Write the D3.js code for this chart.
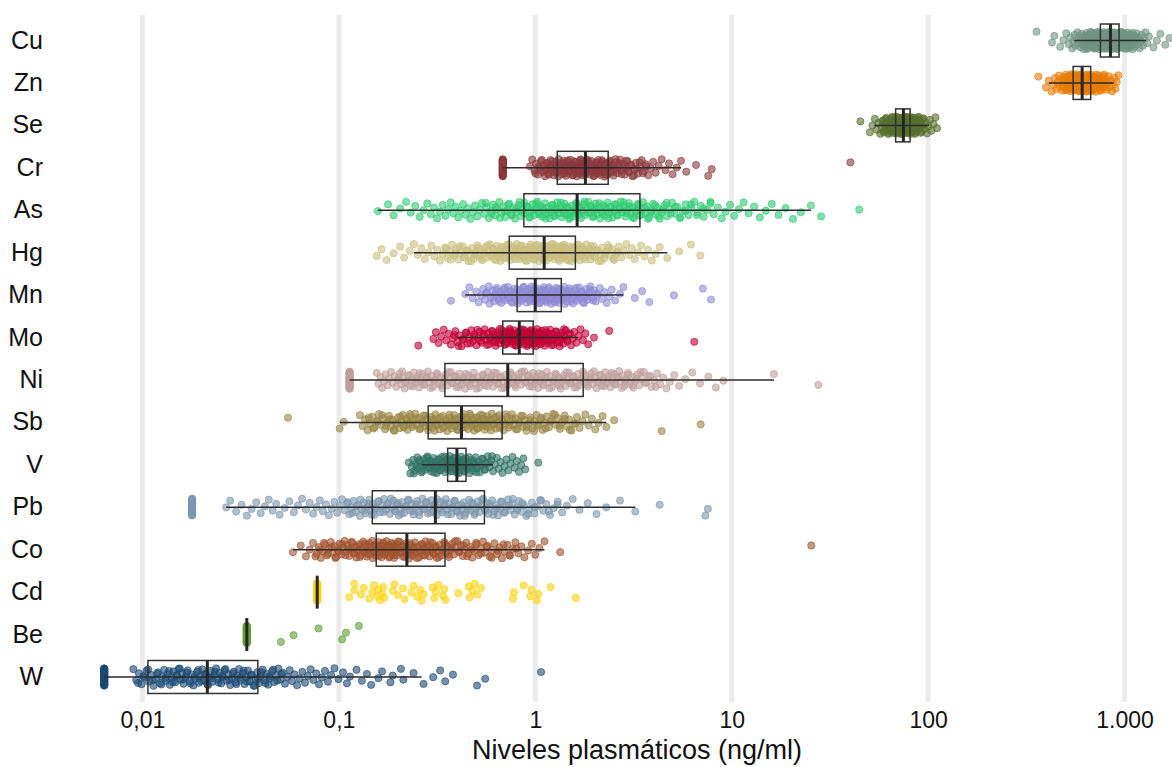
<!DOCTYPE html>
<html>
<head>
<meta charset="utf-8">
<script src="https://cdn.jsdelivr.net/npm/d3@7"></script>
<style>
  body { margin: 0; background: #fff; }
  text { font-family: "Liberation Sans", Arial, sans-serif; fill: #111; }
</style>
</head>
<body>
<div id="container"></div>
<script>
var width = 1172,
    height = 767;

// elements, top to bottom
var elements = ["Cu", "Zn", "Se", "Cr", "As", "Hg", "Mn", "Mo", "Ni", "Sb", "V", "Pb", "Co", "Cd", "Be", "W"];
var palette = ["#6f9283", "#e87d05", "#566f2d", "#8c383c", "#2ecc71", "#c9bf7f", "#8e8ad6", "#c10034",
               "#bf9f9b", "#9a8544", "#2e7263", "#7d96ae", "#a0522d", "#fcd20a", "#5ca131", "#1b4a75"];

// box stats (ng/ml)
var whiskerLow  = [555, 411, 53.2, 0.683, 0.158, 0.241, 0.44, 0.401, 0.1134, 0.101, 0.264, 0.0267, 0.0584, 0.0776, 0.034, 0.00639];
var q1          = [753, 547, 68.3, 1.294, 0.875, 0.737, 0.808, 0.683, 0.3465, 0.285, 0.358, 0.148, 0.155, 0.0776, 0.034, 0.01067];
var median      = [847, 608, 74.8, 1.80, 1.633, 1.11, 1.0, 0.829, 0.7244, 0.421, 0.399, 0.310, 0.222, 0.0776, 0.034, 0.0214];
var q3          = [937, 672, 80.9, 2.35, 3.41, 1.60, 1.356, 0.976, 1.754, 0.678, 0.444, 0.551, 0.347, 0.0776, 0.034, 0.0387];
var whiskerHigh = [1287, 880, 101, 5.52, 25.3, 4.70, 2.81, 1.654, 16.4, 2.30, 0.608, 3.23, 1.114, 0.0776, 0.034, 0.264];

// values piled at the detection limit
var lodElements = ["Cr", "Ni", "Pb", "Cd", "Be", "W"];
var lodValues   = [0.683, 0.1134, 0.0179, 0.0776, 0.034, 0.00639];
var lodCounts   = [40, 40, 30, 60, 60, 60];

var tickValues = [0.01, 0.1, 1, 10, 100, 1000];
var tickLabels = ["0,01", "0,1", "1", "10", "100", "1.000"];

var ptsCu = [356, 427, 439, 470, 488, 505, 520, 530, 541, 548, 556, 563, 570, 576, 582, 588, 594, 599, 604, 609, 614, 619, 624, 628, 632, 637, 641, 645, 649, 653, 657, 661, 665, 669, 672, 676, 680, 683, 687, 690, 694, 697, 701, 704, 708, 711, 714, 718, 721, 724, 727, 731, 734, 737, 740, 743, 746, 749, 752, 755, 758, 761, 764, 767, 770, 773, 776, 779, 782, 785, 788, 791, 794, 797, 800, 803, 806, 809, 812, 815, 818, 821, 824, 827, 830, 833, 836, 839, 842, 845, 848, 851, 854, 857, 860, 863, 866, 869, 872, 875, 878, 881, 884, 888, 891, 894, 898, 901, 905, 908, 912, 915, 919, 922, 926, 930, 934, 938, 942, 946, 950, 954, 958, 963, 967, 972, 977, 982, 987, 992, 997, 1003, 1009, 1015, 1021, 1027, 1034, 1041, 1048, 1056, 1064, 1072, 1080, 1089, 1098, 1108, 1118, 1129, 1140, 1152, 1165, 1178, 1192, 1207, 1223, 1240, 1258, 1278, 1302, 1330, 1402, 1460, 1521, 1610, 1692];
var ptsZn = [364, 398, 411, 425, 434, 442, 450, 457, 463, 469, 475, 480, 485, 490, 494, 498, 502, 506, 510, 513, 517, 520, 523, 527, 530, 533, 536, 539, 542, 545, 548, 550, 553, 556, 558, 561, 563, 566, 568, 571, 573, 576, 578, 580, 583, 585, 587, 590, 592, 594, 596, 599, 601, 603, 605, 608, 610, 612, 614, 617, 619, 621, 624, 626, 628, 631, 633, 636, 638, 641, 643, 646, 648, 651, 654, 656, 659, 662, 665, 668, 671, 674, 677, 680, 683, 687, 690, 694, 697, 701, 705, 709, 713, 717, 722, 727, 732, 737, 742, 748, 754, 760, 766, 773, 780, 787, 795, 803, 811, 820, 830, 840, 851, 862, 874, 886, 899, 912, 930];
var ptsSe = [45.2, 50.5, 52, 53.5, 54.8, 55.9, 57, 58, 58.9, 59.7, 60.5, 61.2, 61.9, 62.5, 63.1, 63.7, 64.2, 64.7, 65.2, 65.7, 66.2, 66.6, 67.0, 67.4, 67.8, 68.2, 68.6, 69.0, 69.4, 69.7, 70.1, 70.5, 70.8, 71.2, 71.5, 71.9, 72.2, 72.6, 72.9, 73.3, 73.6, 74.0, 74.3, 74.7, 75.0, 75.4, 75.7, 76.1, 76.4, 76.8, 77.2, 77.5, 77.9, 78.3, 78.7, 79.1, 79.5, 79.9, 80.3, 80.7, 81.1, 81.6, 82.0, 82.5, 83.0, 83.5, 84.0, 84.6, 85.2, 85.8, 86.4, 87.1, 87.8, 88.6, 89.4, 90.3, 91.2, 92.2, 93.3, 94.5, 95.8, 97.2, 98.7, 100.3, 102, 104, 106.5, 109, 111];
var ptsCr = [0.94, 0.965, 0.99, 1.01, 1.03, 1.05, 1.07, 1.09, 1.105, 1.12, 1.135, 1.15, 1.165, 1.18, 1.195, 1.21, 1.225, 1.24, 1.255, 1.27, 1.285, 1.3, 1.315, 1.33, 1.345, 1.36, 1.375, 1.39, 1.405, 1.42, 1.435, 1.45, 1.465, 1.48, 1.495, 1.51, 1.525, 1.54, 1.555, 1.57, 1.585, 1.6, 1.615, 1.63, 1.645, 1.66, 1.675, 1.69, 1.705, 1.72, 1.735, 1.75, 1.765, 1.78, 1.795, 1.81, 1.83, 1.85, 1.87, 1.89, 1.91, 1.93, 1.95, 1.97, 1.99, 2.01, 2.03, 2.05, 2.07, 2.09, 2.11, 2.13, 2.15, 2.17, 2.19, 2.21, 2.23, 2.25, 2.28, 2.31, 2.34, 2.37, 2.4, 2.43, 2.46, 2.5, 2.54, 2.58, 2.62, 2.66, 2.7, 2.75, 2.8, 2.85, 2.9, 2.95, 3.0, 3.06, 3.12, 3.18, 3.25, 3.32, 3.4, 3.48, 3.57, 3.66, 3.76, 3.87, 3.98, 4.1, 4.25, 4.4, 4.6, 4.8, 5.0, 5.25, 5.52, 5.87, 6.58, 7.59, 7.91, 40.2];
var ptsAs = [0.158, 0.178, 0.19, 0.205, 0.22, 0.232, 0.245, 0.258, 0.27, 0.282, 0.294, 0.305, 0.316, 0.327, 0.338, 0.349, 0.36, 0.371, 0.382, 0.393, 0.405, 0.417, 0.429, 0.441, 0.454, 0.467, 0.48, 0.493, 0.507, 0.521, 0.535, 0.55, 0.565, 0.58, 0.595, 0.61, 0.625, 0.64, 0.656, 0.672, 0.688, 0.704, 0.72, 0.737, 0.754, 0.771, 0.788, 0.806, 0.824, 0.842, 0.86, 0.878, 0.896, 0.914, 0.932, 0.95, 0.968, 0.986, 1.005, 1.024, 1.043, 1.062, 1.082, 1.102, 1.122, 1.142, 1.163, 1.184, 1.205, 1.227, 1.249, 1.271, 1.294, 1.317, 1.34, 1.364, 1.388, 1.412, 1.437, 1.462, 1.488, 1.514, 1.54, 1.567, 1.594, 1.622, 1.65, 1.679, 1.708, 1.738, 1.768, 1.799, 1.83, 1.862, 1.894, 1.927, 1.96, 1.994, 2.03, 2.065, 2.1, 2.14, 2.18, 2.22, 2.26, 2.3, 2.34, 2.38, 2.42, 2.47, 2.52, 2.57, 2.62, 2.67, 2.72, 2.77, 2.82, 2.88, 2.94, 3.0, 3.06, 3.12, 3.18, 3.25, 3.32, 3.39, 3.46, 3.54, 3.62, 3.7, 3.79, 3.88, 3.98, 4.08, 4.19, 4.3, 4.42, 4.55, 4.68, 4.82, 4.97, 5.12, 5.28, 5.45, 5.63, 5.82, 6.02, 6.23, 6.45, 6.7, 6.95, 7.2, 7.5, 7.8, 8.1, 8.5, 8.9, 9.3, 9.8, 10.3, 10.9, 11.5, 12.2, 13, 13.9, 14.9, 16, 17.3, 18.8, 20.5, 22.5, 25.3, 28.5, 44.6];
var ptsHg = [0.156, 0.165, 0.175, 0.19, 0.205, 0.215, 0.23, 0.241, 0.252, 0.263, 0.274, 0.285, 0.296, 0.307, 0.317, 0.327, 0.337, 0.347, 0.357, 0.367, 0.377, 0.387, 0.397, 0.407, 0.417, 0.427, 0.437, 0.447, 0.457, 0.467, 0.477, 0.487, 0.497, 0.507, 0.517, 0.527, 0.537, 0.547, 0.557, 0.567, 0.577, 0.587, 0.597, 0.607, 0.617, 0.627, 0.637, 0.647, 0.657, 0.667, 0.677, 0.687, 0.697, 0.707, 0.717, 0.727, 0.737, 0.748, 0.759, 0.77, 0.781, 0.792, 0.803, 0.814, 0.825, 0.836, 0.847, 0.858, 0.869, 0.88, 0.891, 0.902, 0.913, 0.924, 0.936, 0.948, 0.96, 0.972, 0.984, 0.996, 1.008, 1.02, 1.032, 1.044, 1.056, 1.068, 1.08, 1.093, 1.106, 1.119, 1.132, 1.145, 1.158, 1.171, 1.184, 1.197, 1.21, 1.224, 1.238, 1.252, 1.266, 1.28, 1.295, 1.31, 1.325, 1.34, 1.355, 1.37, 1.386, 1.402, 1.418, 1.434, 1.45, 1.467, 1.484, 1.501, 1.518, 1.535, 1.553, 1.571, 1.59, 1.61, 1.63, 1.65, 1.67, 1.69, 1.71, 1.73, 1.76, 1.79, 1.82, 1.85, 1.88, 1.91, 1.94, 1.98, 2.02, 2.06, 2.1, 2.14, 2.19, 2.24, 2.29, 2.34, 2.4, 2.46, 2.52, 2.59, 2.66, 2.74, 2.82, 2.91, 3.0, 3.1, 3.21, 3.33, 3.46, 3.6, 3.75, 3.92, 4.1, 4.3, 4.7, 5.4, 6.2, 6.92];
var ptsMn = [0.372, 0.44, 0.462, 0.48, 0.5, 0.515, 0.53, 0.543, 0.556, 0.568, 0.58, 0.592, 0.604, 0.616, 0.627, 0.638, 0.649, 0.66, 0.671, 0.682, 0.693, 0.704, 0.715, 0.726, 0.737, 0.748, 0.759, 0.77, 0.781, 0.792, 0.803, 0.814, 0.825, 0.836, 0.847, 0.858, 0.869, 0.88, 0.891, 0.902, 0.913, 0.924, 0.935, 0.946, 0.957, 0.968, 0.979, 0.99, 1.001, 1.012, 1.023, 1.034, 1.045, 1.057, 1.069, 1.081, 1.093, 1.105, 1.117, 1.129, 1.141, 1.154, 1.167, 1.18, 1.193, 1.206, 1.22, 1.234, 1.248, 1.262, 1.277, 1.292, 1.307, 1.322, 1.338, 1.354, 1.37, 1.387, 1.404, 1.421, 1.439, 1.457, 1.476, 1.495, 1.515, 1.535, 1.556, 1.577, 1.6, 1.623, 1.647, 1.672, 1.698, 1.725, 1.753, 1.782, 1.812, 1.843, 1.875, 1.91, 1.95, 1.99, 2.03, 2.08, 2.13, 2.19, 2.25, 2.31, 2.38, 2.45, 2.55, 2.7, 2.81, 3.21, 3.5, 3.81, 5.08, 7.13, 7.85];
var ptsMo = [0.254, 0.303, 0.312, 0.322, 0.332, 0.342, 0.352, 0.362, 0.372, 0.382, 0.392, 0.402, 0.412, 0.422, 0.432, 0.442, 0.452, 0.462, 0.472, 0.482, 0.492, 0.502, 0.512, 0.522, 0.532, 0.542, 0.552, 0.562, 0.572, 0.582, 0.592, 0.602, 0.611, 0.62, 0.629, 0.638, 0.647, 0.656, 0.665, 0.674, 0.683, 0.692, 0.7, 0.708, 0.716, 0.724, 0.732, 0.74, 0.748, 0.756, 0.764, 0.772, 0.78, 0.788, 0.796, 0.804, 0.812, 0.82, 0.828, 0.836, 0.844, 0.852, 0.86, 0.868, 0.876, 0.884, 0.892, 0.9, 0.908, 0.916, 0.924, 0.932, 0.94, 0.948, 0.956, 0.965, 0.974, 0.983, 0.992, 1.002, 1.012, 1.022, 1.033, 1.044, 1.055, 1.067, 1.079, 1.091, 1.104, 1.117, 1.131, 1.145, 1.16, 1.175, 1.19, 1.206, 1.222, 1.239, 1.256, 1.274, 1.292, 1.311, 1.33, 1.35, 1.37, 1.39, 1.41, 1.43, 1.46, 1.49, 1.52, 1.55, 1.58, 1.62, 1.66, 1.7, 1.75, 1.8, 1.86, 1.99, 2.38, 6.45];
var ptsNi = [0.156, 0.159, 0.163, 0.166, 0.17, 0.173, 0.177, 0.18, 0.184, 0.188, 0.192, 0.196, 0.2, 0.204, 0.208, 0.212, 0.216, 0.221, 0.226, 0.231, 0.236, 0.241, 0.246, 0.251, 0.256, 0.261, 0.266, 0.272, 0.278, 0.284, 0.29, 0.296, 0.302, 0.308, 0.315, 0.322, 0.329, 0.336, 0.343, 0.35, 0.357, 0.364, 0.372, 0.38, 0.388, 0.396, 0.404, 0.412, 0.421, 0.43, 0.439, 0.448, 0.457, 0.467, 0.477, 0.487, 0.497, 0.507, 0.518, 0.529, 0.54, 0.551, 0.562, 0.574, 0.586, 0.598, 0.61, 0.623, 0.636, 0.649, 0.662, 0.676, 0.69, 0.704, 0.718, 0.733, 0.748, 0.763, 0.779, 0.795, 0.811, 0.828, 0.845, 0.862, 0.88, 0.898, 0.916, 0.935, 0.954, 0.974, 0.994, 1.014, 1.035, 1.056, 1.078, 1.1, 1.122, 1.145, 1.168, 1.192, 1.216, 1.241, 1.266, 1.292, 1.318, 1.345, 1.372, 1.4, 1.428, 1.457, 1.487, 1.517, 1.548, 1.579, 1.611, 1.644, 1.677, 1.711, 1.746, 1.781, 1.817, 1.854, 1.892, 1.93, 1.97, 2.01, 2.05, 2.09, 2.13, 2.18, 2.22, 2.27, 2.31, 2.36, 2.41, 2.46, 2.51, 2.56, 2.61, 2.67, 2.72, 2.78, 2.84, 2.9, 2.96, 3.02, 3.09, 3.16, 3.23, 3.31, 3.39, 3.48, 3.57, 3.67, 3.78, 3.9, 4.03, 4.17, 4.32, 4.48, 4.65, 4.85, 5.1, 5.4, 5.8, 6.3, 6.9, 7.6, 8.3, 9.07, 16.4, 27.6];
var ptsSb = [0.0551, 0.101, 0.106, 0.128, 0.132, 0.136, 0.14, 0.144, 0.148, 0.152, 0.156, 0.16, 0.164, 0.168, 0.172, 0.176, 0.18, 0.184, 0.188, 0.192, 0.196, 0.2, 0.204, 0.208, 0.212, 0.216, 0.22, 0.224, 0.228, 0.232, 0.236, 0.24, 0.245, 0.25, 0.255, 0.26, 0.265, 0.27, 0.275, 0.28, 0.285, 0.29, 0.295, 0.3, 0.305, 0.31, 0.315, 0.32, 0.326, 0.332, 0.338, 0.344, 0.35, 0.356, 0.362, 0.368, 0.374, 0.38, 0.386, 0.392, 0.398, 0.404, 0.41, 0.416, 0.422, 0.428, 0.434, 0.44, 0.447, 0.454, 0.461, 0.468, 0.475, 0.482, 0.489, 0.496, 0.504, 0.512, 0.52, 0.528, 0.536, 0.544, 0.553, 0.562, 0.571, 0.58, 0.59, 0.6, 0.61, 0.62, 0.631, 0.642, 0.653, 0.665, 0.677, 0.69, 0.703, 0.717, 0.731, 0.746, 0.761, 0.777, 0.793, 0.81, 0.827, 0.845, 0.864, 0.883, 0.903, 0.924, 0.945, 0.967, 0.99, 1.014, 1.038, 1.063, 1.089, 1.116, 1.144, 1.173, 1.203, 1.234, 1.266, 1.3, 1.335, 1.37, 1.41, 1.45, 1.49, 1.53, 1.58, 1.63, 1.68, 1.74, 1.8, 1.87, 1.94, 2.02, 2.1, 2.2, 2.3, 2.52, 4.4, 6.95];
var ptsV  = [0.227, 0.231, 0.235, 0.239, 0.243, 0.247, 0.251, 0.255, 0.259, 0.263, 0.267, 0.271, 0.275, 0.279, 0.283, 0.287, 0.291, 0.295, 0.299, 0.303, 0.307, 0.311, 0.315, 0.319, 0.323, 0.327, 0.331, 0.335, 0.339, 0.343, 0.347, 0.351, 0.355, 0.359, 0.363, 0.367, 0.371, 0.375, 0.379, 0.383, 0.387, 0.391, 0.395, 0.399, 0.403, 0.407, 0.411, 0.415, 0.419, 0.424, 0.429, 0.434, 0.439, 0.444, 0.45, 0.456, 0.462, 0.468, 0.475, 0.482, 0.489, 0.497, 0.505, 0.513, 0.522, 0.531, 0.541, 0.551, 0.562, 0.573, 0.585, 0.597, 0.61, 0.623, 0.637, 0.651, 0.666, 0.681, 0.697, 0.713, 0.73, 0.748, 0.766, 0.785, 0.805, 0.826, 0.848, 0.87, 0.889, 1.036];
var ptsPb = [0.0267, 0.028, 0.03, 0.032, 0.034, 0.036, 0.038, 0.04, 0.042, 0.044, 0.046, 0.048, 0.05, 0.053, 0.056, 0.059, 0.062, 0.065, 0.068, 0.071, 0.074, 0.077, 0.08, 0.083, 0.086, 0.089, 0.092, 0.095, 0.098, 0.101, 0.104, 0.107, 0.11, 0.113, 0.116, 0.119, 0.122, 0.125, 0.128, 0.131, 0.134, 0.137, 0.14, 0.143, 0.146, 0.149, 0.152, 0.155, 0.158, 0.162, 0.166, 0.17, 0.174, 0.178, 0.182, 0.186, 0.19, 0.194, 0.198, 0.202, 0.206, 0.21, 0.215, 0.22, 0.225, 0.23, 0.235, 0.24, 0.245, 0.25, 0.255, 0.26, 0.266, 0.272, 0.278, 0.284, 0.29, 0.296, 0.302, 0.308, 0.315, 0.322, 0.329, 0.336, 0.343, 0.35, 0.357, 0.365, 0.373, 0.381, 0.389, 0.397, 0.405, 0.414, 0.423, 0.432, 0.441, 0.45, 0.46, 0.47, 0.48, 0.49, 0.5, 0.51, 0.52, 0.531, 0.542, 0.553, 0.565, 0.577, 0.59, 0.603, 0.617, 0.631, 0.646, 0.661, 0.677, 0.693, 0.71, 0.728, 0.746, 0.765, 0.785, 0.806, 0.828, 0.851, 0.875, 0.9, 0.93, 0.96, 0.99, 1.02, 1.06, 1.1, 1.14, 1.19, 1.24, 1.3, 1.37, 1.45, 1.55, 1.68, 1.85, 2.05, 2.3, 2.7, 3.23, 4.3, 7.34, 7.56];
var ptsCo = [0.0584, 0.064, 0.068, 0.071, 0.074, 0.077, 0.079, 0.081, 0.083, 0.085, 0.087, 0.089, 0.091, 0.093, 0.095, 0.097, 0.099, 0.101, 0.103, 0.105, 0.107, 0.109, 0.111, 0.113, 0.115, 0.117, 0.119, 0.121, 0.123, 0.125, 0.127, 0.129, 0.131, 0.133, 0.135, 0.137, 0.139, 0.141, 0.143, 0.145, 0.147, 0.149, 0.151, 0.153, 0.155, 0.157, 0.159, 0.161, 0.163, 0.165, 0.167, 0.169, 0.171, 0.173, 0.175, 0.177, 0.179, 0.181, 0.183, 0.185, 0.187, 0.189, 0.191, 0.193, 0.195, 0.198, 0.201, 0.204, 0.207, 0.21, 0.213, 0.216, 0.219, 0.222, 0.225, 0.228, 0.231, 0.234, 0.237, 0.24, 0.244, 0.248, 0.252, 0.256, 0.26, 0.264, 0.268, 0.272, 0.276, 0.28, 0.285, 0.29, 0.295, 0.3, 0.305, 0.31, 0.315, 0.32, 0.326, 0.332, 0.338, 0.344, 0.35, 0.357, 0.364, 0.371, 0.378, 0.385, 0.393, 0.401, 0.409, 0.418, 0.427, 0.436, 0.446, 0.456, 0.467, 0.478, 0.49, 0.502, 0.515, 0.528, 0.542, 0.556, 0.571, 0.587, 0.603, 0.62, 0.638, 0.657, 0.677, 0.698, 0.72, 0.743, 0.767, 0.792, 0.82, 0.85, 0.88, 0.92, 0.96, 1.0, 1.05, 1.114, 1.34, 25.4];
var ptsCd = [0.113, 0.120, 0.120, 0.130, 0.134, 0.143, 0.148, 0.151, 0.156, 0.159, 0.162, 0.166, 0.168, 0.170, 0.188, 0.192, 0.200, 0.212, 0.216, 0.234, 0.240, 0.250, 0.260, 0.264, 0.270, 0.300, 0.306, 0.312, 0.320, 0.339, 0.344, 0.349, 0.406, 0.458, 0.463, 0.478, 0.491, 0.507, 0.529, 0.770, 0.779, 0.872, 0.943, 0.958, 1.02, 1.036, 1.197, 1.61];
var ptsBe = [0.0507, 0.0588, 0.0788, 0.104, 0.1087, 0.1265];
var ptsW  = [0.009, 0.0093, 0.0096, 0.0099, 0.0102, 0.0105, 0.0108, 0.0111, 0.0114, 0.0117, 0.012, 0.0123, 0.0126, 0.0129, 0.0132, 0.0135, 0.0138, 0.0141, 0.0144, 0.0147, 0.015, 0.0153, 0.0156, 0.0159, 0.0162, 0.0166, 0.017, 0.0174, 0.0178, 0.0182, 0.0186, 0.019, 0.0194, 0.0198, 0.0202, 0.0206, 0.021, 0.0214, 0.0218, 0.0222, 0.0227, 0.0232, 0.0237, 0.0242, 0.0247, 0.0252, 0.0257, 0.0262, 0.0268, 0.0274, 0.028, 0.0286, 0.0292, 0.0298, 0.0304, 0.031, 0.0317, 0.0324, 0.0331, 0.0338, 0.0345, 0.0352, 0.036, 0.0368, 0.0376, 0.0384, 0.0392, 0.04, 0.0409, 0.0418, 0.0427, 0.0437, 0.0447, 0.0458, 0.0469, 0.048, 0.0492, 0.0505, 0.0518, 0.0532, 0.0547, 0.0562, 0.0578, 0.0595, 0.0613, 0.0632, 0.0652, 0.0673, 0.0695, 0.0718, 0.0742, 0.0767, 0.0793, 0.082, 0.085, 0.088, 0.0913, 0.095, 0.0996, 0.105, 0.11, 0.114, 0.123, 0.131, 0.139, 0.146, 0.159, 0.166, 0.183, 0.188, 0.207, 0.213, 0.24, 0.27, 0.302, 0.328, 0.348, 0.381, 0.505, 0.556, 1.07];

// second reading of the crowded middle of each strip
var coreCu = [643, 651, 659, 667, 674, 681, 688, 695, 702, 709, 716, 723, 729, 735, 741, 747, 753, 759, 765, 771, 777, 783, 789, 795, 801, 807, 813, 819, 825, 831, 837, 843, 849, 855, 861, 867, 873, 879, 886, 893, 900, 907, 914, 921, 928, 936, 944, 952, 960, 969, 978, 988, 998, 1008, 1019, 1031, 1043, 1056, 1070, 1085, 1101, 1118, 1136];
var coreZn = [482, 492, 500, 508, 515, 522, 528, 534, 540, 546, 551, 557, 562, 567, 572, 577, 582, 586, 591, 595, 600, 604, 609, 613, 618, 622, 627, 632, 637, 642, 647, 652, 657, 663, 669, 675, 681, 688, 695, 703, 711, 720, 730, 740, 752, 765, 779, 795];
var coreSe = [58.4, 59.3, 60.1, 60.9, 61.6, 62.2, 62.8, 63.4, 64.0, 64.5, 65.0, 65.5, 66.0, 66.4, 66.8, 67.2, 67.6, 68.0, 68.4, 68.8, 69.2, 69.6, 69.9, 70.3, 70.7, 71.0, 71.4, 71.7, 72.1, 72.4, 72.8, 73.1, 73.5, 73.8, 74.2, 74.5, 74.9, 75.2, 75.6, 75.9, 76.3, 76.6, 77.0, 77.4, 77.7, 78.1, 78.5, 78.9, 79.3, 79.7, 80.1, 80.5, 80.9, 81.4, 81.8, 82.3, 82.8, 83.3, 83.8, 84.3, 84.9, 85.5, 86.1, 86.8, 87.5, 88.2, 89, 89.8, 90.7, 91.7, 92.8, 94];
var coreCr = [1.0, 1.04, 1.08, 1.11, 1.14, 1.17, 1.2, 1.22, 1.25, 1.28, 1.31, 1.34, 1.37, 1.4, 1.43, 1.46, 1.49, 1.52, 1.55, 1.58, 1.61, 1.64, 1.67, 1.7, 1.73, 1.76, 1.79, 1.82, 1.86, 1.9, 1.94, 1.98, 2.02, 2.06, 2.1, 2.14, 2.18, 2.22, 2.26, 2.3, 2.35, 2.4, 2.45, 2.5, 2.56, 2.62, 2.68, 2.75, 2.82, 2.9, 2.98, 3.07, 3.17, 3.28, 3.4, 3.53, 3.67];
var coreAs = [0.56, 0.6, 0.63, 0.66, 0.7, 0.73, 0.76, 0.8, 0.83, 0.87, 0.9, 0.94, 0.98, 1.01, 1.05, 1.09, 1.13, 1.17, 1.21, 1.26, 1.3, 1.35, 1.4, 1.45, 1.5, 1.55, 1.61, 1.66, 1.72, 1.78, 1.84, 1.91, 1.98, 2.05, 2.12, 2.2, 2.28, 2.36, 2.44, 2.53, 2.62, 2.71, 2.81, 2.91, 3.01, 3.12, 3.23, 3.35, 3.47, 3.6, 3.75, 3.9, 4.07, 4.25, 4.45, 4.66, 4.9, 5.15, 5.45, 5.8, 6.2, 6.65, 7.2, 7.8];
var coreHg = [0.352, 0.372, 0.392, 0.412, 0.432, 0.452, 0.472, 0.492, 0.512, 0.532, 0.552, 0.572, 0.592, 0.612, 0.632, 0.652, 0.672, 0.692, 0.712, 0.732, 0.753, 0.775, 0.797, 0.819, 0.841, 0.863, 0.885, 0.907, 0.93, 0.954, 0.978, 1.002, 1.026, 1.05, 1.074, 1.1, 1.126, 1.152, 1.178, 1.204, 1.231, 1.259, 1.287, 1.316, 1.346, 1.377, 1.41, 1.443, 1.476, 1.51, 1.545, 1.58, 1.62, 1.66, 1.7, 1.75, 1.8, 1.86, 1.92, 1.99, 2.07, 2.16, 2.26, 2.37, 2.5, 2.62];
var coreMn = [0.562, 0.586, 0.61, 0.632, 0.654, 0.676, 0.698, 0.72, 0.742, 0.764, 0.786, 0.808, 0.83, 0.852, 0.874, 0.896, 0.918, 0.94, 0.962, 0.984, 1.006, 1.028, 1.051, 1.075, 1.099, 1.123, 1.148, 1.173, 1.2, 1.227, 1.255, 1.284, 1.314, 1.345, 1.378, 1.412, 1.448, 1.485, 1.525, 1.566, 1.61, 1.66, 1.71, 1.77, 1.83, 1.9, 1.97, 2.05];
var coreMo = [0.387, 0.407, 0.427, 0.447, 0.467, 0.487, 0.507, 0.527, 0.547, 0.567, 0.587, 0.606, 0.624, 0.642, 0.66, 0.678, 0.696, 0.712, 0.728, 0.744, 0.76, 0.776, 0.792, 0.808, 0.824, 0.84, 0.856, 0.872, 0.888, 0.904, 0.92, 0.936, 0.952, 0.97, 0.988, 1.007, 1.027, 1.049, 1.073, 1.098, 1.124, 1.152, 1.182, 1.214, 1.248, 1.283, 1.32, 1.36, 1.4, 1.445, 1.5];
var coreNi = [0.202, 0.21, 0.218, 0.228, 0.238, 0.248, 0.258, 0.269, 0.281, 0.293, 0.305, 0.318, 0.332, 0.346, 0.36, 0.376, 0.392, 0.408, 0.425, 0.443, 0.462, 0.482, 0.502, 0.523, 0.545, 0.568, 0.592, 0.617, 0.643, 0.669, 0.697, 0.725, 0.755, 0.787, 0.82, 0.854, 0.889, 0.926, 0.964, 1.004, 1.046, 1.089, 1.134, 1.18, 1.229, 1.279, 1.332, 1.386, 1.442, 1.502, 1.563, 1.627, 1.694, 1.763, 1.835, 1.911, 1.99, 2.07, 2.15, 2.24, 2.34, 2.44, 2.54, 2.65, 2.76, 2.87, 2.99, 3.12, 3.27, 3.44, 3.62, 3.84, 4.1];
var coreSb = [0.142, 0.15, 0.158, 0.166, 0.174, 0.182, 0.19, 0.198, 0.206, 0.214, 0.222, 0.23, 0.238, 0.247, 0.257, 0.267, 0.277, 0.287, 0.297, 0.307, 0.317, 0.329, 0.341, 0.353, 0.365, 0.377, 0.389, 0.401, 0.413, 0.425, 0.437, 0.45, 0.464, 0.478, 0.492, 0.508, 0.524, 0.54, 0.557, 0.575, 0.595, 0.615, 0.636, 0.659, 0.683, 0.709, 0.737, 0.766, 0.797, 0.83, 0.865, 0.903, 0.943, 0.985, 1.03, 1.08, 1.13, 1.19, 1.26, 1.33, 1.41, 1.5, 1.6];
var coreV  = [0.241, 0.249, 0.257, 0.265, 0.273, 0.281, 0.289, 0.297, 0.305, 0.313, 0.321, 0.329, 0.337, 0.345, 0.353, 0.361, 0.369, 0.377, 0.385, 0.393, 0.401, 0.409, 0.417, 0.426, 0.436, 0.447, 0.459, 0.472, 0.486, 0.501, 0.518, 0.536, 0.556, 0.578, 0.602];
var corePb = [0.111, 0.117, 0.123, 0.129, 0.135, 0.141, 0.147, 0.153, 0.16, 0.168, 0.176, 0.184, 0.192, 0.2, 0.208, 0.217, 0.227, 0.237, 0.247, 0.257, 0.268, 0.28, 0.292, 0.304, 0.317, 0.33, 0.344, 0.358, 0.373, 0.388, 0.404, 0.42, 0.437, 0.455, 0.474, 0.494, 0.515, 0.537, 0.56, 0.585, 0.611, 0.639, 0.669, 0.7, 0.735, 0.77, 0.81, 0.86, 0.92, 0.99, 1.07, 1.17, 1.3];
var coreCo = [0.076, 0.08, 0.084, 0.088, 0.092, 0.096, 0.1, 0.104, 0.108, 0.112, 0.116, 0.12, 0.124, 0.128, 0.132, 0.136, 0.14, 0.144, 0.148, 0.152, 0.156, 0.16, 0.164, 0.168, 0.172, 0.176, 0.18, 0.184, 0.188, 0.192, 0.196, 0.2, 0.205, 0.211, 0.217, 0.223, 0.229, 0.235, 0.242, 0.25, 0.258, 0.266, 0.274, 0.283, 0.292, 0.302, 0.312, 0.323, 0.335, 0.347, 0.36, 0.375, 0.39, 0.41, 0.43, 0.45, 0.475, 0.5, 0.53, 0.565, 0.6, 0.645, 0.69, 0.74, 0.8];
var coreW  = [0.0095, 0.0101, 0.0107, 0.0113, 0.0119, 0.0125, 0.0131, 0.0137, 0.0143, 0.0149, 0.0155, 0.0161, 0.0168, 0.0176, 0.0184, 0.0192, 0.02, 0.0208, 0.0216, 0.0225, 0.0234, 0.0244, 0.0254, 0.0265, 0.0277, 0.0289, 0.0301, 0.0314, 0.0328, 0.0342, 0.0356, 0.0372, 0.0388, 0.0405, 0.0423, 0.0442, 0.0463, 0.0486, 0.051];

var pointLists = [ptsCu, ptsZn, ptsSe, ptsCr, ptsAs, ptsHg, ptsMn, ptsMo, ptsNi, ptsSb, ptsV, ptsPb, ptsCo, ptsCd, ptsBe, ptsW];
var coreLists  = [coreCu, coreZn, coreSe, coreCr, coreAs, coreHg, coreMn, coreMo, coreNi, coreSb, coreV, corePb, coreCo, [], [], coreW];

var svg = d3.select('#container').append('svg')
    .attr("width", width)
    .attr("height", height);

var x = d3.scaleLog()
    .domain([0.01, 1000])
    .range([142.4, 1124.6]);

var y = d3.scaleBand()
    .domain(elements)
    .range([19.3, 698.2]);

var bw = y.bandwidth(),
    boxH = 33,
    jitterAmp = 8.8;

function cy(e) { return y(e) + bw / 2; }

// vertical gridlines
svg.append("g")
  .selectAll("line")
  .data(tickValues)
  .enter().append("line")
    .attr("x1", function(d) { return x(d); })
    .attr("x2", function(d) { return x(d); })
    .attr("y1", 15)
    .attr("y2", 702)
    .style("stroke", "#ebebeb")
    .style("stroke-width", 5);

// flatten the strips; vertical spread follows a golden-ratio sequence
var dots = [];
elements.forEach(function(e, r) {
  var vals = pointLists[r].concat(coreLists[r]);
  var k = lodElements.indexOf(e);
  if (k >= 0) {
    for (var n = 0; n < lodCounts[k]; n++) vals.push(lodValues[k]);
  }
  vals.forEach(function(v, i) {
    var j = ((i * 0.6180339887 + r * 0.137) % 1) * 2 - 1;
    dots.push({ e: e, r: r, v: v, dy: j * jitterAmp });
  });
});

svg.append("g")
  .selectAll("circle")
  .data(dots)
  .enter().append("circle")
    .attr("cx", function(d) { return x(d.v); })
    .attr("cy", function(d) { return cy(d.e) + d.dy; })
    .attr("r", 3.6)
    .style("fill", function(d) { return palette[d.r]; })
    .style("fill-opacity", 0.6)
    .style("stroke", function(d) { return palette[d.r]; })
    .style("stroke-opacity", 0.62)
    .style("stroke-width", 1);

// boxes
var boxes = svg.append("g")
  .selectAll("g")
  .data(elements)
  .enter().append("g");

boxes.append("line")
    .attr("x1", function(d, i) { return x(whiskerLow[i]); })
    .attr("x2", function(d, i) { return x(whiskerHigh[i]); })
    .attr("y1", cy)
    .attr("y2", cy)
    .style("stroke", "#2b2b2b")
    .style("stroke-width", 1.5);

boxes.append("rect")
    .attr("x", function(d, i) { return x(q1[i]); })
    .attr("width", function(d, i) { return x(q3[i]) - x(q1[i]); })
    .attr("y", function(d) { return cy(d) - boxH / 2; })
    .attr("height", boxH)
    .style("fill", "none")
    .style("stroke", "#333")
    .style("stroke-width", 1.5);

boxes.append("line")
    .attr("x1", function(d, i) { return x(median[i]); })
    .attr("x2", function(d, i) { return x(median[i]); })
    .attr("y1", function(d) { return cy(d) - boxH / 2; })
    .attr("y2", function(d) { return cy(d) + boxH / 2; })
    .style("stroke", "#262626")
    .style("stroke-width", 3);

// axes
var xAxis = svg.append("g")
    .attr("transform", "translate(0,705)")
    .call(d3.axisBottom(x)
      .tickValues(tickValues)
      .tickFormat(function(d, i) { return tickLabels[i]; })
      .tickSize(0)
      .tickPadding(7));
xAxis.select(".domain").remove();
xAxis.selectAll("text")
    .style("font-size", "23px")
    .style("font-family", "'Liberation Sans', Arial, sans-serif")
    .attr("fill", "#111");

var yAxis = svg.append("g")
    .attr("transform", "translate(43,0)")
    .call(d3.axisLeft(y).tickSize(0).tickPadding(0));
yAxis.select(".domain").remove();
yAxis.selectAll("text")
    .style("font-size", "25px")
    .style("font-family", "'Liberation Sans', Arial, sans-serif")
    .attr("fill", "#111");

svg.append("text")
    .attr("x", 637)
    .attr("y", 759)
    .attr("text-anchor", "middle")
    .style("font-size", "27px")
    .text("Niveles plasmáticos (ng/ml)");
</script>
</body>
</html>
